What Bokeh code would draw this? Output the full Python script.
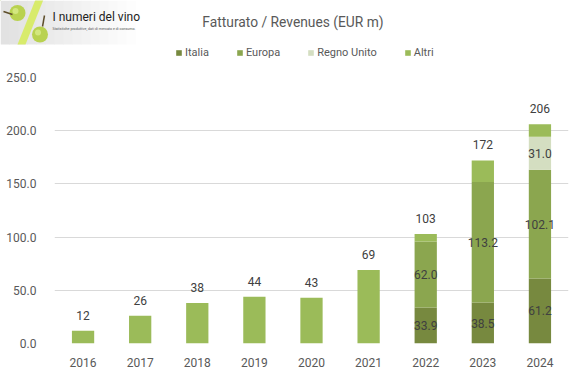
import numpy as np
from bokeh.plotting import figure
from bokeh.layouts import column
from bokeh.core.properties import value
from bokeh.models import (ColumnDataSource, LabelSet, Legend, LegendItem,
                          FactorRange, Range1d)
from bokeh.embed import file_html
from bokeh.resources import INLINE

# ---- data ----
years = ["2016", "2017", "2018", "2019", "2020", "2021", "2022", "2023", "2024"]
italia = [0, 0, 0, 0, 0, 0, 33.9, 38.5, 61.2]
europa = [0, 0, 0, 0, 0, 0, 62.0, 113.2, 102.1]
regno_unito = [0, 0, 0, 0, 0, 0, 0, 0, 31.0]
altri = [12, 26, 38, 44, 43, 69, 7.1, 20.3, 11.7]
totals = [12, 26, 38, 44, 43, 69, 103, 172, 206]
y_ticks = [0, 50, 100, 150, 200, 250]
series_names = ["Italia", "Europa", "Regno Unito", "Altri"]
colors = ["#77893F", "#8BA64F", "#D4DEC1", "#9BBB59"]
title_text = "Fatturato / Revenues (EUR m)"

FONT = "Roboto"
TXT = "#595959"
W = 576
H = 372
HH = 62  # header height

# ---------------- header (logo, title, legend) ----------------
h = figure(width=W, height=HH, x_range=Range1d(0, W), y_range=Range1d(HH, 0),
           output_backend="svg", toolbar_location=None,
           min_border=0, min_border_left=0, min_border_right=0,
           min_border_top=0, min_border_bottom=0)
h.axis.visible = False
h.grid.visible = False
h.outline_line_color = None
h.frame_align = False

# logo (decorative)
lg = np.linspace(0, 1, 16)
for i in range(len(lg) - 1):
    g = int(226 + 29 * lg[i])
    h.quad(left=lg[i] * 135, right=lg[i + 1] * 135 + 0.6, top=0, bottom=44,
           fill_color=f"#{g:02x}{g:02x}{g:02x}", line_color=None)
h.patch(x=[17, 25, 43, 35], y=[44, 44, -1, -1], fill_color="#D8EB6C", line_color=None)
h.scatter(x=[17, 39.5], y=[12.5, 34], size=16, fill_color="#B9D250", line_color=None)
h.scatter(x=[15, 37.5], y=[10.5, 32], size=6, fill_color="#D3E77F", line_color=None)
h.line(x=[3, 12], y=[11, 14], line_color="#5E4E2A", line_width=1.5)
h.line(x=[42, 44], y=[26, 15], line_color="#5E4E2A", line_width=1.5)
h.text(x=[52], y=[16], text=["I numeri del vino"], text_baseline="middle",
       text_font=value(FONT), text_font_size="12px", text_color="#222222")
h.text(x=[52], y=[28], text=["Statistiche produttive, dati di mercato e di consumo."],
       text_baseline="middle", text_font=value(FONT), text_font_size="3.6px", text_color="#555555")

# title
h.text(x=[292.5], y=[21], text=[title_text], text_align="center", text_baseline="middle",
       text_font=value(FONT), text_font_size="13.8px", text_color=TXT)

# legend: renderers in the series colours, their data lies outside the view
leg_r = [h.vbar(x=[-100], top=[-100], bottom=[-99], width=1, fill_color=c, line_color=None)
         for c in colors]
items = [LegendItem(label=n, renderers=[rr]) for n, rr in zip(series_names, leg_r)]
leg = Legend(items=items, orientation="horizontal", location=(175, HH - 53 - 6),
             glyph_width=7, glyph_height=7, label_standoff=3, spacing=27,
             padding=0, margin=0, border_line_color=None, background_fill_alpha=0,
             label_text_font=FONT, label_text_font_size="11px", label_text_color=TXT,
             label_height=12)
h.add_layout(leg, "center")

# ---------------- main chart ----------------
src = ColumnDataSource(dict(years=years, Italia=italia, Europa=europa,
                            **{"Regno Unito": regno_unito}, Altri=altri,
                            totals=totals,
                            total_txt=[str(t) for t in totals]))

p = figure(x_range=FactorRange(*years, range_padding=0), y_range=Range1d(0, 250),
           width=W, height=H - HH, output_backend="svg", toolbar_location=None,
           min_border_left=54, min_border_right=W - 568,
           min_border_top=77 - HH, min_border_bottom=H - 343)
p.outline_line_color = None
p.frame_align = False

p.vbar_stack(series_names, x="years", width=0.39, color=colors, line_color=None, source=src)

series_vals = [italia, europa, regno_unito, altri]
base = np.zeros(len(years))
for name, vals in zip(series_names, series_vals):
    vals = np.array(vals, dtype=float)
    if name != "Altri":
        mask = vals > 0
        lsrc = ColumnDataSource(dict(
            x=[y for y, m in zip(years, mask) if m],
            y=list((base + vals / 2)[mask]),
            t=[f"{v:.1f}" for v in vals[mask]]))
        p.add_layout(LabelSet(x="x", y="y", text="t", source=lsrc,
                              text_align="center", text_baseline="middle",
                              text_font=value(FONT), text_font_size="12px",
                              text_color="#404040"))
    base = base + vals

p.add_layout(LabelSet(x="years", y="totals", text="total_txt", source=src,
                      y_offset=11, text_align="center", text_baseline="bottom",
                      text_font=value(FONT), text_font_size="12px", text_color="#404040"))

p.yaxis.ticker = y_ticks
p.yaxis.major_label_overrides = {v: f"{v:.1f}" for v in y_ticks}
for ax in (p.xaxis, p.yaxis):
    ax.axis_line_color = None
    ax.major_tick_line_color = None
    ax.minor_tick_line_color = None
    ax.major_label_text_font = FONT
    ax.major_label_text_font_size = "12px"
    ax.major_label_text_color = TXT
p.yaxis.major_label_standoff = 12
p.xaxis.major_label_standoff = 8
p.xgrid.grid_line_color = None
p.ygrid.grid_line_color = "#D9D9D9"
p.ygrid.grid_line_width = 1

layout = column(h, p, spacing=0)
open("out.html", "w").write(file_html(layout, INLINE))
